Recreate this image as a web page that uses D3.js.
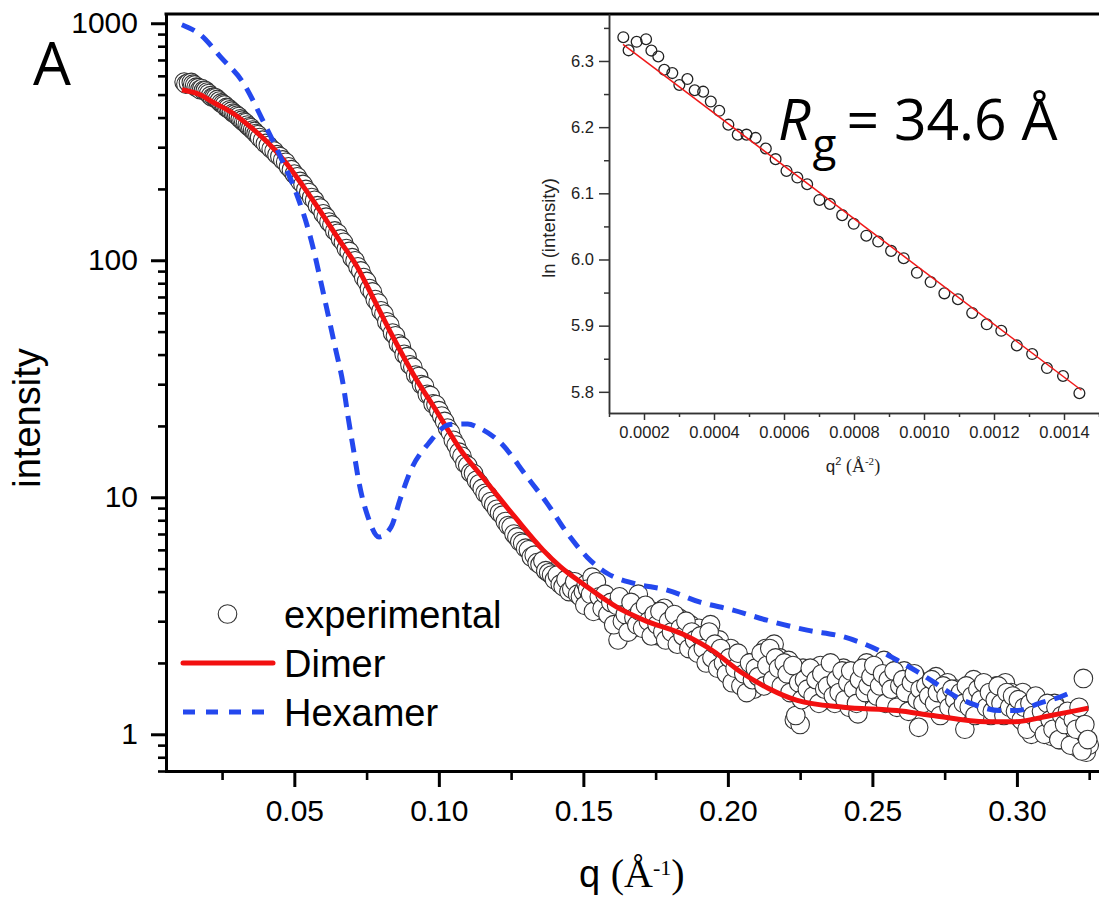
<!DOCTYPE html>
<html>
<head>
<meta charset="utf-8">
<script src="https://cdn.jsdelivr.net/npm/d3@7"></script>
<style>
  body { margin: 0; background: #fff; }
  svg { display: block; }
</style>
</head>
<body>
<svg id="chart" width="1099" height="903"></svg>
<script>
// ---- SAXS profile: scattering vector q (1/Å) and measured intensity ----
const expQ = [
  0.01187,0.01249,0.01338,0.01435,0.01487,0.01552,0.01606,0.01676,0.01735,0.01800,
  0.01857,0.01921,0.01977,0.02037,0.02100,0.02163,0.02220,0.02278,0.02341,0.02400,
  0.02464,0.02526,0.02581,0.02648,0.02704,0.02768,0.02827,0.02890,0.02948,0.03010,
  0.03069,0.03130,0.03192,0.03253,0.03312,0.03373,0.03434,0.03494,0.03557,0.03618,
  0.03676,0.03738,0.03800,
  0.039,0.040,0.041,0.042,0.043,0.044,0.045,0.046,0.047,0.048,
  0.049,0.050,0.051,0.052,0.053,0.054,0.055,0.056,0.057,0.058,
  0.059,0.060,0.061,0.062,0.063,0.064,0.065,0.066,0.067,0.068,
  0.069,0.070,0.071,0.072,0.073,0.074,0.075,0.076,0.077,0.078,
  0.079,0.080,0.081,0.082,0.083,0.084,0.085,0.086,0.087,0.088,
  0.089,0.090,0.091,0.092,0.093,0.094,0.095,0.096,0.097,0.098,
  0.099,0.100,0.101,0.102,0.103,0.104,0.105,0.106,0.107,0.108,
  0.109,0.110,0.111,0.112,0.113,0.114,0.115,0.116,0.117,0.118,
  0.119,0.120,0.121,0.122,0.123,0.124,0.125,0.126,0.127,0.128,
  0.129,0.130,0.131,0.132,0.133,0.134,0.135,0.136,0.137,0.138,
  0.139,0.140,0.141,0.142,0.143,0.144,0.145,0.146,0.147,0.148,
  0.149,0.150,0.151,0.152,0.153,0.154,0.155,0.156,0.157,0.158,
  0.159,0.160,0.161,0.162,0.163,0.164,0.165,0.166,0.167,0.168,
  0.169,0.170,0.171,0.172,0.173,0.174,0.175,0.176,0.177,0.178,
  0.179,0.180,0.181,0.182,0.183,0.184,0.185,0.186,0.187,0.188,
  0.189,0.190,0.191,0.192,0.193,0.194,0.195,0.196,0.197,0.198,
  0.199,0.200,0.201,0.202,0.203,0.204,0.205,0.206,0.207,0.208,
  0.209,0.210,0.211,0.212,0.213,0.214,0.215,0.216,0.217,0.218,
  0.219,0.220,0.221,0.222,0.223,0.224,0.225,0.226,0.227,0.228,
  0.229,0.230,0.231,0.232,0.233,0.234,0.235,0.236,0.237,0.238,
  0.239,0.240,0.241,0.242,0.243,0.244,0.245,0.246,0.247,0.248,
  0.249,0.250,0.251,0.252,0.253,0.254,0.255,0.256,0.257,0.258,
  0.259,0.260,0.261,0.262,0.263,0.264,0.265,0.266,0.267,0.268,
  0.269,0.270,0.271,0.272,0.273,0.274,0.275,0.276,0.277,0.278,
  0.279,0.280,0.281,0.282,0.283,0.284,0.285,0.286,0.287,0.288,
  0.289,0.290,0.291,0.292,0.293,0.294,0.295,0.296,0.297,0.298,
  0.299,0.300,0.301,0.302,0.303,0.304,0.305,0.306,0.307,0.308,
  0.309,0.310,0.311,0.312,0.313,0.314,0.315,0.316,0.317,0.318,
  0.319,0.320,0.321,0.322,0.323,0.324,0.325,
  0.1505,0.1515,0.1525,0.1535,0.1545,0.1555,0.1565,0.1575,0.1585,0.1595,
  0.1605,0.1615,0.1625,0.1635,0.1645,0.1655,0.1665,0.1675,0.1685,0.1695,
  0.1705,0.1715,0.1725,0.1735,0.1745,0.1755,0.1765,0.1775,0.1785,0.1795,
  0.1805,0.1815,0.1825,0.1835,0.1845,0.1855,0.1865,0.1875,0.1885,0.1895,
  0.1905,0.1915,0.1925,0.1935,0.1945,0.1955,0.1965,0.1975,0.1985,0.1995,
  0.2005,0.2015,0.2025,0.2035,0.2045,0.2055,0.2065,0.2075,0.2085,0.2095,
  0.2105,0.2115,0.2125,0.2135,0.2145,0.2155,0.2165,0.2175,0.2185,0.2195,
  0.2205,0.2215,0.2225,0.2235,0.2245,0.2255,0.2265,0.2275,0.2285,0.2295,
  0.2305,0.2315,0.2325,0.2335,0.2345,0.2355,0.2365,0.2375,0.2385,0.2395,
  0.2405,0.2415,0.2425,0.2435,0.2445,0.2455,0.2465,0.2475,0.2485,0.2495,
  0.2505,0.2515,0.2525,0.2535,0.2545,0.2555,0.2565,0.2575,0.2585,0.2595,
  0.2605,0.2615,0.2625,0.2635,0.2645,0.2655,0.2665,0.2675,0.2685,0.2695,
  0.2705,0.2715,0.2725,0.2735,0.2745,0.2755,0.2765,0.2775,0.2785,0.2795,
  0.2805,0.2815,0.2825,0.2835,0.2845,0.2855,0.2865,0.2875,0.2885,0.2895,
  0.2905,0.2915,0.2925,0.2935,0.2945,0.2955,0.2965,0.2975,0.2985,0.2995,
  0.3005,0.3015,0.3025,0.3035,0.3045,0.3055,0.3065,0.3075,0.3085,0.3095,
  0.3105,0.3115,0.3125,0.3135,0.3145,0.3155,0.3165,0.3175,0.3185,0.3195,
  0.3205,0.3215,0.3225,0.3235,0.3245
];
const expI = [
  564.5,553.4,560.6,562.8,553.2,548.3,537.4,534.7,525.2,529.9,
  521.0,519.9,512.2,505.1,494.6,487.2,487.2,484.8,477.1,469.5,
  461.2,456.6,452.0,441.4,438.8,431.4,425.8,418.2,414.5,408.7,
  404.2,395.4,389.9,383.3,379.9,372.1,365.8,362.2,354.3,349.7,
  342.4,338.3,329.6,
  321,311,305,295,289,279,274,265,259,248,
  241,231,225,215,209,199,193,184,179,170,
  166,157,152,145,141,133,130,123,119,112,
  109,102.5,99.5,93.8,90.2,84.5,81.4,76.0,73.5,68.3,
  66.0,61.2,59.3,55.0,53.3,49.3,48.0,44.4,43.4,40.1,
  39.2,36.2,35.4,32.8,32.3,29.9,29.5,27.2,26.9,24.8,
  24.6,23.2,22.0,20.9,19.6,18.8,17.4,16.6,15.5,14.9,
  13.9,13.6,12.7,12.6,11.8,11.4,10.9,10.4,10.2,9.6,
  9.3,8.9,8.6,8.4,7.9,7.6,7.5,7.0,6.8,6.5,
  6.4,6.1,6.0,5.6,5.7,5.3,5.2,5.4,4.9,4.8,
  4.7,4.5,4.7,4.3,4.2,4.5,4.0,4.1,4.4,3.9,
  3.8,4.0,4.3,3.7,4.6,3.6,3.9,3.5,3.3,3.7,
  3.4,3.6,3.2,2.5,3.3,3.5,3.0,3.1,2.8,3.4,
  3.9,3.0,2.9,3.2,2.7,3.3,3.1,2.6,2.9,3.4,
  3.0,2.8,2.5,2.9,3.1,2.7,2.4,2.6,2.9,2.3,
  2.5,2.8,2.6,2.2,2.4,2.9,2.3,2.1,2.5,1.9,
  2.2,2.0,2.3,1.8,1.7,2.1,1.9,1.6,2.0,1.75,
  1.55,1.9,2.1,1.7,2.3,1.85,2.0,2.4,1.8,2.1,
  1.9,1.7,2.05,1.6,1.15,1.75,1.1,1.9,1.55,1.45,
  1.8,1.6,1.5,1.95,1.7,1.4,1.65,1.85,1.35,1.55,
  1.75,1.9,1.5,1.3,1.6,1.7,1.22,1.45,1.8,2.0,
  1.65,1.5,1.75,1.9,1.55,2.05,1.4,1.6,1.8,1.5,
  1.45,1.7,1.85,1.6,1.35,1.55,1.75,1.07,1.5,1.65,
  1.4,1.3,1.6,1.75,1.45,1.35,1.5,1.65,1.3,1.4,
  1.55,1.25,1.45,1.05,1.6,1.35,1.7,1.5,1.3,1.45,
  1.35,1.55,1.2,1.4,1.6,1.3,1.45,1.65,1.25,1.5,
  1.35,1.2,1.4,1.5,1.1,1.3,1.0,1.25,1.4,1.15,
  1.05,1.3,1.2,0.98,1.35,1.1,0.95,1.25,1.15,0.92,
  1.0,1.2,0.88,0.95,1.72,0.84,0.9,
  3.5,4.1,3.9,3.3,4.4,3.8,3.4,3.9,3.2,3.6,
  2.9,3.5,3.8,3.0,3.2,2.7,3.6,3.1,2.9,3.3,
  2.8,3.5,3.0,2.6,3.2,2.9,3.3,2.7,2.5,3.0,
  2.7,3.2,2.4,2.8,2.6,3.0,2.3,2.7,2.5,2.2,
  2.6,2.3,2.0,2.7,2.1,2.4,1.9,2.3,2.0,1.8,
  2.1,1.65,1.9,2.2,1.6,1.8,1.5,2.0,1.7,1.9,
  1.75,2.2,1.6,1.95,2.3,1.7,2.1,1.9,1.6,2.0,
  1.8,1.5,1.95,1.2,1.65,1.4,1.7,1.55,1.9,1.45,
  1.7,1.35,1.8,1.55,1.6,2.0,1.45,1.7,1.5,1.85,
  1.4,1.65,1.85,1.55,1.35,1.7,1.9,1.5,1.6,1.75,
  1.95,1.45,1.6,1.8,1.35,1.7,1.55,1.85,1.3,1.6,
  1.7,1.5,1.25,1.65,1.8,1.4,1.55,1.35,1.6,1.45,
  1.7,1.35,1.5,1.2,1.6,1.45,1.3,1.55,1.4,1.25,
  1.5,1.35,1.6,1.3,1.45,1.2,1.55,1.4,1.65,1.3,
  1.5,1.25,1.4,1.6,1.35,1.2,1.5,1.3,1.45,1.25,
  1.4,1.15,1.3,1.05,1.35,1.2,1.45,1.1,1.25,1.0,
  1.35,1.15,1.05,1.3,0.95,1.2,1.1,1.25,0.9,1.15,
  1.05,1.3,0.85,1.1,0.95
];

// ---- model curves ----
const dimerQ = [0.0111,0.0174,0.0222,0.0285,0.0347,0.0409,0.0471,0.0532,0.0593,0.0655,
  0.0717,0.0766,0.0841,0.0915,0.0989,0.1076,0.1160,0.1265,0.1360,0.1420,
  0.1500,0.1616,0.1710,0.1845,0.1950,0.2042,0.2141,0.2240,0.2400,0.2585,
  0.2710,0.2894,0.2994,0.3117,0.3247];
const dimerI = [524,499,462,419,366,313,258,204,159,122,
  94,72,47.5,32.5,23.4,15.8,11.8,8.2,6.0,5.1,
  4.3,3.44,3.03,2.64,2.24,1.84,1.56,1.39,1.30,1.26,
  1.20,1.13,1.13,1.20,1.29];

const hexamerQ = [0.0111,0.0174,0.0247,0.0323,0.0395,0.0457,0.0506,0.0558,0.0600,0.0643,
  0.0668,0.0686,0.0705,0.0724,0.0755,0.0793,0.0835,0.0866,0.0903,0.0965,
  0.1039,0.1100,0.1132,0.1211,0.1305,0.1374,0.1444,0.1513,0.1582,0.1672,
  0.1790,0.1904,0.2018,0.2135,0.2274,0.2399,0.2522,0.2596,0.2658,0.2719,
  0.2781,0.2855,0.2942,0.3003,0.3077,0.3151,0.3200];
const hexamerI = [986,896,716,561,380,265,193,122,73,42,
  30.4,21.8,15.8,11.5,8.25,6.8,7.5,9.8,13.0,16.9,
  20.3,20.4,19.8,17.1,12.2,9.45,7.06,5.59,4.78,4.34,
  4.06,3.61,3.34,3.03,2.75,2.58,2.26,2.02,1.83,1.64,
  1.46,1.33,1.26,1.26,1.35,1.44,1.53];

// ---- axes ticks and labels ----
const xTicks = [0.05, 0.10, 0.15, 0.20, 0.25, 0.30];
const xMinorTicks = [0.025, 0.075, 0.125, 0.175, 0.225, 0.275, 0.325];
const yTicks = [1, 10, 100, 1000];
const legendLabels = ["experimental", "Dimer", "Hexamer"];

// ---- Guinier inset ----
const guinierCount = 43;          // low-q points used in the Guinier plot
const radiusOfGyration = 34.6;    // Å
const guinierLnI0 = 6.381;        // ln I(0) of the fit
const guinierFitRange = [0.00014, 0.00145];
const insetXTicks = [0.0002, 0.0004, 0.0006, 0.0008, 0.0010, 0.0012, 0.0014];
const insetXMinor = [0.0001, 0.0003, 0.0005, 0.0007, 0.0009, 0.0011, 0.0013, 0.0015];
const insetYTicks = [5.8, 5.9, 6.0, 6.1, 6.2, 6.3];
const insetYMinor = [5.85, 5.95, 6.05, 6.15, 6.25, 6.35];

const SANS = "'Liberation Sans', Arial, sans-serif";
const SERIF = "'Liberation Serif', 'Times New Roman', serif";
const CAL = "'Open Sans', 'Noto Sans', sans-serif";

const svg = d3.select("#chart");

// ===== main panel =====
const box = { left: 166, right: 1099, top: 14, bottom: 771 };
const x = d3.scaleLinear().domain([0.0056, 0.3284]).range([box.left, box.right]);
const y = d3.scaleLog().domain([0.7, 1094]).range([box.bottom, box.top]);

const yMinor = [];
[0.1, 1, 10, 100].forEach(dec => {
  for (let k = 2; k <= 9; k++) {
    const v = k * dec;
    if (v >= 0.7 && v < 1000) yMinor.push(v);
  }
});

function styleAxis(g, width) {
  g.attr("font-family", SANS).attr("fill", "#000");
  g.select(".domain").attr("stroke", "#000").attr("stroke-width", width).attr("stroke-linecap", "square");
  g.selectAll(".tick line").attr("stroke", "#000").attr("stroke-width", width);
}

const gYMinor = svg.append("g").attr("transform", `translate(${box.left},0)`)
  .call(d3.axisLeft(y).tickValues(yMinor).tickSize(8).tickSizeOuter(0).tickFormat(""));
styleAxis(gYMinor, 2.6);
const gY = svg.append("g").attr("transform", `translate(${box.left},0)`)
  .call(d3.axisLeft(y).tickValues(yTicks).tickSize(15).tickSizeOuter(0).tickPadding(13)
    .tickFormat(d3.format("d")));
styleAxis(gY, 3);
gY.selectAll(".tick text").attr("font-size", 30).attr("fill", "#000");

const gXMinor = svg.append("g").attr("transform", `translate(0,${box.bottom})`)
  .call(d3.axisBottom(x).tickValues(xMinorTicks).tickSize(9).tickSizeOuter(0).tickFormat(""));
styleAxis(gXMinor, 2.6);
const gX = svg.append("g").attr("transform", `translate(0,${box.bottom})`)
  .call(d3.axisBottom(x).tickValues(xTicks).tickSize(16).tickSizeOuter(0)
    .tickFormat(d3.format(".2f")));
styleAxis(gX, 3);
gX.selectAll(".tick text").attr("font-size", 30).attr("fill", "#000")
  .attr("y", 50).attr("dy", 0);

// top frame line
svg.append("line")
  .attr("x1", box.left).attr("x2", box.right)
  .attr("y1", box.top).attr("y2", box.top)
  .attr("stroke", "#000").attr("stroke-width", 3).attr("stroke-linecap", "square");

// experimental points
const expData = expQ.map((q, i) => [q, expI[i]]);
svg.append("g").selectAll("circle").data(expData).join("circle")
  .attr("cx", d => x(d[0])).attr("cy", d => y(d[1])).attr("r", 9.3)
  .attr("fill", "#fff").attr("stroke", "#333").attr("stroke-width", 1.1);

const line = d3.line().x(d => x(d[0])).y(d => y(d[1])).curve(d3.curveMonotoneX);

svg.append("path").datum(dimerQ.map((q, i) => [q, dimerI[i]]))
  .attr("d", line).attr("fill", "none").attr("stroke", "#f21010")
  .attr("stroke-width", 5).attr("stroke-linejoin", "round");

svg.append("path").datum(hexamerQ.map((q, i) => [q, hexamerI[i]]))
  .attr("d", line).attr("fill", "none").attr("stroke", "#2448ee")
  .attr("stroke-width", 5).attr("stroke-dasharray", "14,9");

// axis titles
svg.append("text")
  .attr("transform", "translate(40,418) rotate(-90)")
  .attr("text-anchor", "middle").attr("font-family", SANS).attr("font-size", 38)
  .text("intensity");

const xt = svg.append("text").attr("x", 579).attr("y", 887)
  .attr("font-family", SANS).attr("font-size", 38);
xt.append("tspan").text("q ");
xt.append("tspan").attr("font-family", SERIF).attr("font-size", 40).text("(Å");
xt.append("tspan").attr("font-family", SERIF).attr("font-size", 22).attr("dy", -12).text("-1");
xt.append("tspan").attr("font-family", SERIF).attr("font-size", 40).attr("dy", 12).text(")");

// panel letter
svg.append("text").attr("x", 33).attr("y", 85)
  .attr("font-family", CAL).attr("font-size", 60).text("A");

// legend
const lg = svg.append("g").attr("font-family", SANS).attr("font-size", 38);
lg.append("circle").attr("cx", 227.5).attr("cy", 614).attr("r", 9.3)
  .attr("fill", "#fff").attr("stroke", "#333").attr("stroke-width", 1.1);
lg.append("line").attr("x1", 183).attr("x2", 273).attr("y1", 663).attr("y2", 663)
  .attr("stroke", "#f21010").attr("stroke-width", 5).attr("stroke-linecap", "round");
lg.append("line").attr("x1", 183).attr("x2", 268).attr("y1", 712).attr("y2", 712)
  .attr("stroke", "#2448ee").attr("stroke-width", 5).attr("stroke-dasharray", "12,11");
lg.selectAll("text.lbl").data(legendLabels).join("text").attr("class", "lbl")
  .attr("x", 284).attr("y", (d, i) => 628 + i * 49).text(d => d);

// ===== Guinier inset =====
const ib = { left: 609, right: 1099, top: 14, bottom: 413 };
const ix = d3.scaleLinear().domain([0.0001, 0.0015]).range([ib.left, ib.right]);
const iy = d3.scaleLinear().domain([5.768, 6.371]).range([ib.bottom, ib.top]);

const inset = svg.append("g");
inset.append("rect").attr("x", ib.left).attr("y", ib.top + 2)
  .attr("width", ib.right - ib.left).attr("height", ib.bottom - ib.top - 2).attr("fill", "#fff");

function styleInset(g) {
  g.attr("font-family", SANS);
  g.select(".domain").attr("stroke", "#333").attr("stroke-width", 1.5);
  g.selectAll(".tick line").attr("stroke", "#333").attr("stroke-width", 1.5);
  g.selectAll(".tick text").attr("fill", "#222").attr("font-size", 16.5);
}
const igYm = inset.append("g").attr("transform", `translate(${ib.left},0)`)
  .call(d3.axisLeft(iy).tickValues(insetYMinor).tickSize(5).tickSizeOuter(0).tickFormat(""));
styleInset(igYm);
const igY = inset.append("g").attr("transform", `translate(${ib.left},0)`)
  .call(d3.axisLeft(iy).tickValues(insetYTicks).tickSize(10).tickSizeOuter(0).tickPadding(5)
    .tickFormat(d3.format(".1f")));
styleInset(igY);
const igXm = inset.append("g").attr("transform", `translate(0,${ib.bottom})`)
  .call(d3.axisBottom(ix).tickValues(insetXMinor).tickSize(4).tickSizeOuter(0).tickFormat(""));
styleInset(igXm);
const igX = inset.append("g").attr("transform", `translate(0,${ib.bottom})`)
  .call(d3.axisBottom(ix).tickValues(insetXTicks).tickSize(7).tickSizeOuter(0)
    .tickFormat(d3.format(".4f")));
styleInset(igX);
igX.selectAll(".tick text").attr("y", 24.5).attr("dy", 0);

const guinier = expQ.slice(0, guinierCount).map((q, i) => [q * q, Math.log(expI[i])]);
inset.append("g").selectAll("circle").data(guinier).join("circle")
  .attr("cx", d => ix(d[0])).attr("cy", d => iy(d[1])).attr("r", 5.4)
  .attr("fill", "none").attr("stroke", "#222").attr("stroke-width", 1.3);

const slope = -radiusOfGyration * radiusOfGyration / 3;
const fit = guinierFitRange.map(q2 => [q2, guinierLnI0 + slope * q2]);
inset.append("line")
  .attr("x1", ix(fit[0][0])).attr("y1", iy(fit[0][1]))
  .attr("x2", ix(fit[1][0])).attr("y2", iy(fit[1][1]))
  .attr("stroke", "#f01818").attr("stroke-width", 1.5);

inset.append("text")
  .attr("transform", "translate(555,228) rotate(-90)")
  .attr("text-anchor", "middle").attr("font-family", SANS).attr("font-size", 18.5)
  .attr("fill", "#222").text("ln (intensity)");

const ixt = inset.append("text").attr("x", 853).attr("y", 472).attr("text-anchor", "middle")
  .attr("font-family", SANS).attr("font-size", 17).attr("fill", "#222");
ixt.append("tspan").text("q");
ixt.append("tspan").attr("font-size", 11).attr("dy", -7).text("2");
ixt.append("tspan").attr("font-family", SERIF).attr("font-size", 18).attr("dy", 7).text(" (Å");
ixt.append("tspan").attr("font-family", SERIF).attr("font-size", 11).attr("dy", -7).text("-2");
ixt.append("tspan").attr("font-family", SERIF).attr("font-size", 18).attr("dy", 7).text(")");

// radius of gyration annotation
const rgText = svg.append("text").attr("x", 778).attr("y", 140)
  .attr("font-family", CAL).attr("font-size", 57).attr("fill", "#000");
rgText.append("tspan").attr("font-style", "italic").text("R");
rgText.append("tspan").attr("font-size", 44).attr("dy", 20).attr("dx", 2).text("g");
rgText.append("tspan").attr("dy", -20).attr("dx", 10)
  .text(`= ${radiusOfGyration} Å`);
</script>
</body>
</html>
